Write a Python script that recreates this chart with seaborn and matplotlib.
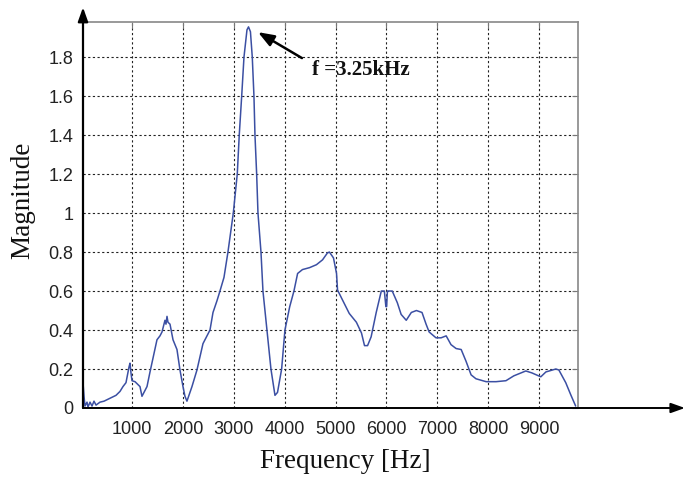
import matplotlib
matplotlib.use("Agg")
import matplotlib.pyplot as plt
import seaborn as sns
import pandas as pd

# Magnitude spectrum of the measured vibration signal
freq_hz = [37, 57, 76, 116, 135, 175, 214, 253, 293, 371, 450, 528, 607, 686, 764, 823,
           882, 941, 961, 980, 1000, 1059, 1118, 1157, 1196, 1236, 1295, 1354, 1432, 1491,
           1550, 1590, 1648, 1668, 1688, 1707, 1747, 1806, 1884, 1943, 2002, 2041, 2080,
           2179, 2277, 2395, 2493, 2533, 2592, 2670, 2729, 2808, 2886, 2991, 3069, 3108,
           3156, 3201, 3260, 3290, 3328, 3364, 3397, 3417, 3450, 3476, 3535, 3574, 3653,
           3731, 3810, 3860, 3941, 4006, 4100, 4183, 4255, 4350, 4490, 4625, 4745, 4840,
           4880, 4960, 5020, 5040, 5135, 5270, 5410, 5510, 5570, 5630, 5700, 5800, 5900,
           5960, 5990, 6005, 6020, 6115, 6215, 6290, 6390, 6490, 6590, 6700, 6780, 6840,
           6975, 7075, 7175, 7270, 7370, 7470, 7565, 7665, 7760, 7960, 8155, 8350, 8505,
           8740, 8860, 9035, 9135, 9330, 9390, 9525, 9625, 9720]
magnitude = [0.13, 0.06, 0.01, 0.03, 0.005, 0.03, 0.01, 0.035, 0.015, 0.03, 0.035, 0.045,
             0.055, 0.065, 0.085, 0.11, 0.13, 0.21, 0.23, 0.18, 0.14, 0.135, 0.12, 0.11,
             0.06, 0.08, 0.11, 0.185, 0.28, 0.35, 0.37, 0.39, 0.45, 0.43, 0.47, 0.44, 0.43,
             0.35, 0.30, 0.195, 0.11, 0.06, 0.035, 0.11, 0.195, 0.33, 0.38, 0.40, 0.49, 0.55,
             0.60, 0.67, 0.80, 1.00, 1.20, 1.40, 1.60, 1.80, 1.94, 1.955, 1.93, 1.80, 1.60,
             1.40, 1.20, 1.00, 0.80, 0.60, 0.40, 0.20, 0.065, 0.08, 0.20, 0.40, 0.52, 0.60,
             0.69, 0.71, 0.72, 0.735, 0.76, 0.795, 0.80, 0.77, 0.69, 0.605, 0.555, 0.485,
             0.44, 0.385, 0.32, 0.32, 0.365, 0.49, 0.60, 0.60, 0.52, 0.52, 0.60, 0.60, 0.54,
             0.48, 0.45, 0.49, 0.50, 0.49, 0.43, 0.39, 0.36, 0.36, 0.37, 0.325, 0.305, 0.30,
             0.24, 0.17, 0.15, 0.135, 0.135, 0.14, 0.165, 0.19, 0.18, 0.16, 0.185, 0.20,
             0.195, 0.13, 0.067, 0.01]

x_ticks = [1000, 2000, 3000, 4000, 5000, 6000, 7000, 8000, 9000]
y_ticks = [0, 0.2, 0.4, 0.6, 0.8, 1.0, 1.2, 1.4, 1.6, 1.8]
y_tick_labels = ["0", "0.2", "0.4", "0.6", "0.8", "1", "1.2", "1.4", "1.6", "1.8"]
peak_label = "f =3.25kHz"

df = pd.DataFrame({"Frequency": freq_hz, "Magnitude": magnitude})

sns.set_theme(style="white")
plt.rcParams["font.family"] = ["Liberation Sans", "DejaVu Sans"]

fig = plt.figure(figsize=(6.86, 4.78), dpi=100)
ax = fig.add_axes([83 / 686, 1 - 408 / 478, (578 - 83) / 686, (408 - 22) / 478])

sns.lineplot(data=df, x="Frequency", y="Magnitude", ax=ax, color="#3b4fa3",
             linewidth=1.1, sort=False, estimator=None)

ax.set_xlim(37, 9766)
ax.set_ylim(0, 1.98)
ax.set_xticks(x_ticks)
ax.set_xticklabels([str(t) for t in x_ticks])
ax.set_yticks(y_ticks)
ax.set_yticklabels(y_tick_labels)

ax.grid(True, color="#222222", linestyle=(0, (2.0, 2.2)), linewidth=0.8)
ax.tick_params(axis="both", which="both", direction="in", length=4, width=0.8,
               color="#777777", top=True, right=True, labelsize=13,
               labelcolor="#222222")
ax.tick_params(axis="x", pad=9)
ax.tick_params(axis="y", pad=7)

for side in ("top", "right"):
    ax.spines[side].set_color("#888888")
    ax.spines[side].set_linewidth(1.2)
for side in ("left", "bottom"):
    ax.spines[side].set_visible(False)

# Arrow-headed coordinate axes
ax.annotate("", xy=(0, 1.038), xytext=(0, 0), xycoords="axes fraction",
            textcoords="axes fraction", annotation_clip=False,
            arrowprops=dict(arrowstyle="-|>,head_length=0.7,head_width=0.25",
                            color="black", lw=1.6, shrinkA=0, shrinkB=0))
ax.annotate("", xy=(1.216, 0), xytext=(0, 0), xycoords="axes fraction",
            textcoords="axes fraction", annotation_clip=False,
            arrowprops=dict(arrowstyle="-|>,head_length=0.7,head_width=0.25",
                            color="black", lw=1.4, shrinkA=0, shrinkB=0))

ax.set_xlabel("Frequency [Hz]", family="Liberation Serif", fontsize=19.5,
              color="#111111")
ax.set_ylabel("Magnitude", family="Liberation Serif", fontsize=19.5,
              color="#111111")
ax.xaxis.set_label_coords(0.529, -0.106)
ax.yaxis.set_label_coords(-0.097, 0.539)

# Peak marker
ax.annotate("", xy=(3476, 1.928), xytext=(4340, 1.795),
            arrowprops=dict(arrowstyle="-|>,head_length=0.8,head_width=0.3",
                            color="black", lw=1.8, shrinkA=0, shrinkB=0))
ax.text(4537, 1.733, peak_label, family="Liberation Serif", fontweight="bold",
        fontsize=15, color="#111111", va="center", ha="left")

fig.savefig("out.png", dpi=100)
